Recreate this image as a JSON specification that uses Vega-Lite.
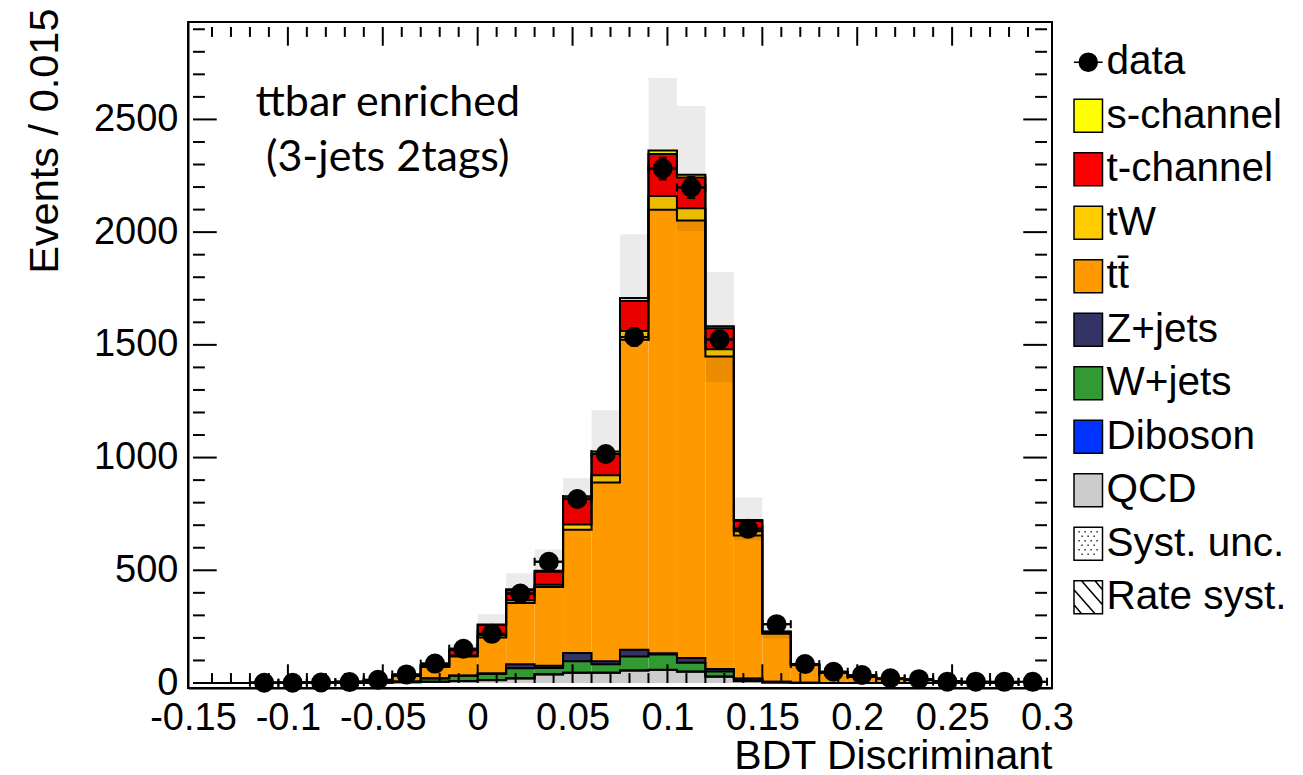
{
  "$schema": "https://vega.github.io/schema/vega-lite/v6.json",
  "width": 864,
  "height": 666,
  "autosize": {"type": "none"},
  "padding": {"left": 188, "top": 22, "right": 251, "bottom": 87},
  "background": "white",
  "datasets": {
    "ranks": [
      {"series": "QCD", "rank": 0},
      {"series": "Diboson", "rank": 1},
      {"series": "W+jets", "rank": 2},
      {"series": "Z+jets", "rank": 3},
      {"series": "tt\u0304", "rank": 4},
      {"series": "tW", "rank": 5},
      {"series": "t-channel", "rank": 6},
      {"series": "s-channel", "rank": 7}
    ],
    "bins": [
      {"lo": -0.15, "hi": -0.135, "c": -0.1425, "data": null, "dlo": null, "dhi": null, "slo": 0, "shi": 0, "QCD": 0, "Diboson": 0, "W+jets": 0, "Z+jets": 0, "tt\u0304": 0, "tW": 0, "t-channel": 0, "s-channel": 0},
      {"lo": -0.135, "hi": -0.12, "c": -0.1275, "data": null, "dlo": null, "dhi": null, "slo": 0.2, "shi": 0.4, "QCD": 0, "Diboson": 0, "W+jets": 0, "Z+jets": 0, "tt\u0304": 0.3, "tW": 0, "t-channel": 0, "s-channel": 0},
      {"lo": -0.12, "hi": -0.105, "c": -0.1125, "data": 1, "dlo": 0, "dhi": 2, "slo": 0.7, "shi": 1.1, "QCD": 0, "Diboson": 0, "W+jets": 0, "Z+jets": 0, "tt\u0304": 0.8, "tW": 0, "t-channel": 0.1, "s-channel": 0},
      {"lo": -0.105, "hi": -0.09, "c": -0.0975, "data": 1, "dlo": 0, "dhi": 2, "slo": 1.4, "shi": 2, "QCD": 0, "Diboson": 0, "W+jets": 0, "Z+jets": 0, "tt\u0304": 1.5, "tW": 0, "t-channel": 0.2, "s-channel": 0},
      {"lo": -0.09, "hi": -0.075, "c": -0.0825, "data": 2, "dlo": 0.6, "dhi": 3.4, "slo": 2.9, "shi": 3.9, "QCD": 0, "Diboson": 0, "W+jets": 0.5, "Z+jets": 0, "tt\u0304": 2.5, "tW": 0.1, "t-channel": 0.3, "s-channel": 0},
      {"lo": -0.075, "hi": -0.06, "c": -0.0675, "data": 4, "dlo": 2, "dhi": 6, "slo": 4.9, "shi": 6.6, "QCD": 0, "Diboson": 0, "W+jets": 1, "Z+jets": 0, "tt\u0304": 4, "tW": 0.2, "t-channel": 0.5, "s-channel": 0},
      {"lo": -0.06, "hi": -0.045, "c": -0.0525, "data": 14, "dlo": 10.3, "dhi": 17.7, "slo": 10.8, "shi": 14.4, "QCD": 1, "Diboson": 0, "W+jets": 2, "Z+jets": 0, "tt\u0304": 8, "tW": 0.4, "t-channel": 1, "s-channel": 0.1},
      {"lo": -0.045, "hi": -0.03, "c": -0.0375, "data": 38, "dlo": 31.8, "dhi": 44.2, "slo": 29.5, "shi": 40, "QCD": 3, "Diboson": 0.2, "W+jets": 4, "Z+jets": 0, "tt\u0304": 24, "tW": 1, "t-channel": 2, "s-channel": 0.3},
      {"lo": -0.03, "hi": -0.015, "c": -0.0225, "data": 86, "dlo": 76.7, "dhi": 95.3, "slo": 68, "shi": 92, "QCD": 5, "Diboson": 0.3, "W+jets": 15, "Z+jets": 0.5, "tt\u0304": 50, "tW": 2, "t-channel": 6, "s-channel": 0.5},
      {"lo": -0.015, "hi": 0, "c": -0.0075, "data": 152, "dlo": 139.7, "dhi": 164.3, "slo": 127, "shi": 172, "QCD": 8, "Diboson": 0.5, "W+jets": 24, "Z+jets": 1, "tt\u0304": 84, "tW": 4, "t-channel": 25, "s-channel": 1},
      {"lo": 0, "hi": 0.015, "c": 0.0075, "data": 218, "dlo": 203.2, "dhi": 232.8, "slo": 224, "shi": 305, "QCD": 12, "Diboson": 1, "W+jets": 27, "Z+jets": 3, "tt\u0304": 159, "tW": 10, "t-channel": 45, "s-channel": 3},
      {"lo": 0.015, "hi": 0.03, "c": 0.0225, "data": 397, "dlo": 377, "dhi": 417, "slo": 358, "shi": 487, "QCD": 20, "Diboson": 1, "W+jets": 44, "Z+jets": 18, "tt\u0304": 272, "tW": 12, "t-channel": 46, "s-channel": 3},
      {"lo": 0.03, "hi": 0.045, "c": 0.0375, "data": 538, "dlo": 515, "dhi": 561, "slo": 428, "shi": 592, "QCD": 38, "Diboson": 1, "W+jets": 27, "Z+jets": 10, "tt\u0304": 350, "tW": 10, "t-channel": 58, "s-channel": 4},
      {"lo": 0.045, "hi": 0.06, "c": 0.0525, "data": 816, "dlo": 787, "dhi": 845, "slo": 705, "shi": 908, "QCD": 45, "Diboson": 1, "W+jets": 51, "Z+jets": 36, "tt\u0304": 547, "tW": 23, "t-channel": 117, "s-channel": 8},
      {"lo": 0.06, "hi": 0.075, "c": 0.0675, "data": 1016, "dlo": 984, "dhi": 1048, "slo": 885, "shi": 1210, "QCD": 45, "Diboson": 1, "W+jets": 37, "Z+jets": 14, "tt\u0304": 792, "tW": 33, "t-channel": 95, "s-channel": 10},
      {"lo": 0.075, "hi": 0.09, "c": 0.0825, "data": 1535, "dlo": 1496, "dhi": 1574, "slo": 1520, "shi": 1991, "QCD": 55, "Diboson": 1, "W+jets": 62, "Z+jets": 29, "tt\u0304": 1376, "tW": 39, "t-channel": 133, "s-channel": 13},
      {"lo": 0.09, "hi": 0.105, "c": 0.0975, "data": 2282, "dlo": 2234, "dhi": 2330, "slo": 2095, "shi": 2684, "QCD": 58, "Diboson": 1, "W+jets": 67, "Z+jets": 6, "tt\u0304": 1967, "tW": 61, "t-channel": 187, "s-channel": 15},
      {"lo": 0.105, "hi": 0.12, "c": 0.1125, "data": 2198, "dlo": 2151, "dhi": 2245, "slo": 2005, "shi": 2560, "QCD": 50, "Diboson": 1, "W+jets": 39, "Z+jets": 21, "tt\u0304": 1941, "tW": 54, "t-channel": 136, "s-channel": 13},
      {"lo": 0.12, "hi": 0.135, "c": 0.1275, "data": 1524, "dlo": 1485, "dhi": 1563, "slo": 1335, "shi": 1823, "QCD": 28, "Diboson": 1, "W+jets": 22, "Z+jets": 11, "tt\u0304": 1386, "tW": 32, "t-channel": 94, "s-channel": 8},
      {"lo": 0.135, "hi": 0.15, "c": 0.1425, "data": 684, "dlo": 658, "dhi": 710, "slo": 633, "shi": 823, "QCD": 8, "Diboson": 0.5, "W+jets": 10, "Z+jets": 2, "tt\u0304": 634, "tW": 19, "t-channel": 45, "s-channel": 5},
      {"lo": 0.15, "hi": 0.165, "c": 0.1575, "data": 261, "dlo": 245, "dhi": 277, "slo": 197, "shi": 262, "QCD": 2, "Diboson": 0.3, "W+jets": 3, "Z+jets": 0, "tt\u0304": 213, "tW": 3, "t-channel": 6, "s-channel": 1},
      {"lo": 0.165, "hi": 0.18, "c": 0.1725, "data": 84, "dlo": 75, "dhi": 93, "slo": 72, "shi": 95, "QCD": 0.5, "Diboson": 0, "W+jets": 1, "Z+jets": 0, "tt\u0304": 78, "tW": 1, "t-channel": 2, "s-channel": 0.3},
      {"lo": 0.18, "hi": 0.195, "c": 0.1875, "data": 50, "dlo": 43, "dhi": 57, "slo": 41, "shi": 54, "QCD": 0, "Diboson": 0, "W+jets": 0.5, "Z+jets": 0, "tt\u0304": 45, "tW": 0.5, "t-channel": 1, "s-channel": 0.2},
      {"lo": 0.195, "hi": 0.21, "c": 0.2025, "data": 35, "dlo": 29, "dhi": 41, "slo": 24, "shi": 32, "QCD": 0, "Diboson": 0, "W+jets": 0, "Z+jets": 0, "tt\u0304": 27, "tW": 0.3, "t-channel": 0.5, "s-channel": 0},
      {"lo": 0.21, "hi": 0.225, "c": 0.2175, "data": 21, "dlo": 16.4, "dhi": 25.6, "slo": 15.5, "shi": 20.7, "QCD": 0, "Diboson": 0, "W+jets": 0, "Z+jets": 0, "tt\u0304": 17.5, "tW": 0.2, "t-channel": 0.3, "s-channel": 0},
      {"lo": 0.225, "hi": 0.24, "c": 0.2325, "data": 17, "dlo": 12.9, "dhi": 21.1, "slo": 11.4, "shi": 15.2, "QCD": 0, "Diboson": 0, "W+jets": 0, "Z+jets": 0, "tt\u0304": 13, "tW": 0, "t-channel": 0.2, "s-channel": 0},
      {"lo": 0.24, "hi": 0.255, "c": 0.2475, "data": 6, "dlo": 3.6, "dhi": 8.4, "slo": 7, "shi": 9.2, "QCD": 0, "Diboson": 0, "W+jets": 0, "Z+jets": 0, "tt\u0304": 8, "tW": 0, "t-channel": 0, "s-channel": 0},
      {"lo": 0.255, "hi": 0.27, "c": 0.2625, "data": 6, "dlo": 3.6, "dhi": 8.4, "slo": 3.5, "shi": 4.6, "QCD": 0, "Diboson": 0, "W+jets": 0, "Z+jets": 0, "tt\u0304": 4, "tW": 0, "t-channel": 0, "s-channel": 0},
      {"lo": 0.27, "hi": 0.285, "c": 0.2775, "data": 5, "dlo": 2.8, "dhi": 7.2, "slo": 2.2, "shi": 2.9, "QCD": 0, "Diboson": 0, "W+jets": 0, "Z+jets": 0, "tt\u0304": 2.5, "tW": 0, "t-channel": 0, "s-channel": 0},
      {"lo": 0.285, "hi": 0.3, "c": 0.2925, "data": 5, "dlo": 2.8, "dhi": 7.2, "slo": 1.3, "shi": 1.7, "QCD": 0, "Diboson": 0, "W+jets": 0, "Z+jets": 0, "tt\u0304": 1.5, "tW": 0, "t-channel": 0, "s-channel": 0}
    ]
  },
  "layer": [
    {
      "data": {"name": "bins"},
      "transform": [
        {"fold": ["QCD", "Diboson", "W+jets", "Z+jets", "tt\u0304", "tW", "t-channel", "s-channel"], "as": ["key", "value"]},
        {"lookup": "key", "from": {"data": {"name": "ranks"}, "key": "series", "fields": ["rank"]}},
        {"stack": "value", "groupby": ["lo"], "sort": [{"field": "rank", "order": "ascending"}], "as": ["y0", "y1"]},
        {"filter": "datum.value > 0"}
      ],
      "mark": {"type": "rect"},
      "encoding": {
        "x": {"field": "lo", "type": "quantitative", "scale": {"domain": [-0.15, 0.3], "nice": false, "zero": false},
          "axis": {"orient": "bottom", "values": [-0.15, -0.1, -0.05, 0, 0.05, 0.1, 0.15, 0.2, 0.25, 0.3],
            "labelExpr": "'' + datum.value", "ticks": false,
            "domain": true, "domainColor": "black", "domainWidth": 2, "grid": false,
            "labelFont": "Liberation Sans", "labelFontSize": 38, "labelColor": "black", "labelPadding": 11,
            "labelFlush": false, "labelOverlap": false, "labelBound": false,
            "title": "BDT Discriminant", "titleFont": "Liberation Sans", "titleFontSize": 41, "titleFontWeight": "normal", "titleColor": "black",
            "titleX": 864, "titleY": 80, "titleAlign": "right", "titleBaseline": "alphabetic"}},
        "x2": {"field": "hi"},
        "y": {"field": "y0", "type": "quantitative", "scale": {"domain": [0, 2910], "nice": false, "zero": false},
          "axis": {"orient": "left", "values": [0, 500, 1000, 1500, 2000, 2500],
            "labelExpr": "'' + datum.value", "ticks": false,
            "domain": true, "domainColor": "black", "domainWidth": 2, "grid": false,
            "labelFont": "Liberation Sans", "labelFontSize": 38, "labelColor": "black", "labelPadding": 10,
            "labelOverlap": false, "labelBound": false, "labelFlush": false,
            "title": "Events / 0.015", "titleFont": "Liberation Sans", "titleFontSize": 41.5, "titleFontWeight": "normal", "titleColor": "black",
            "titleAngle": 270, "titleX": -143, "titleY": -14, "titleAlign": "right", "titleBaseline": "middle"}},
        "y2": {"field": "y1"},
        "color": {"field": "key", "type": "nominal",
          "scale": {"domain": ["data", "s-channel", "t-channel", "tW", "tt\u0304", "Z+jets", "W+jets", "Diboson", "QCD", "Syst. unc.", "Rate syst."],
                    "range": ["#000000", "#ffff00", "#ff0000", "#ffcc00", "#ff9900", "#333366", "#339933", "#0033ff", "#cccccc", "#ffffff", "#ffffff"]},
          "legend": {"title": null, "orient": "none", "legendX": 880, "legendY": 20, "labelFont": "Liberation Sans", "labelFontSize": 40.5, "labelColor": "black", "labelLimit": 400, "symbolSize": 900, "rowPadding": 12.5, "padding": 0, "labelOffset": -2, "symbolStrokeColor": "black", "symbolStrokeWidth": 1.5, "symbolOpacity": 1, "symbolType": "square",
            "encode": {"symbols": {"update": {"stroke": {"value": "black"}, "strokeWidth": {"value": 1.5}, "opacity": {"value": 1}}}}}}
      }
    },
    {
      "data": {"name": "bins"},
      "transform": [{"filter": "datum.shi > 0"}],
      "mark": {"type": "rect", "fill": "#000000", "fillOpacity": 0.08, "strokeWidth": 0},
      "encoding": {
        "x": {"field": "lo", "type": "quantitative", "scale": {"domain": [-0.15, 0.3], "nice": false, "zero": false}},
        "x2": {"field": "hi"},
        "y": {"field": "slo", "type": "quantitative", "scale": {"domain": [0, 2910], "nice": false, "zero": false}},
        "y2": {"field": "shi"}
      }
    },
    {
      "data": {"name": "bins"},
      "transform": [
        {"fold": ["QCD", "Diboson", "W+jets", "Z+jets", "tt\u0304", "tW", "t-channel", "s-channel"], "as": ["key", "value"]},
        {"lookup": "key", "from": {"data": {"name": "ranks"}, "key": "series", "fields": ["rank"]}},
        {"stack": "value", "groupby": ["lo"], "sort": [{"field": "rank", "order": "ascending"}], "as": ["y0", "y1"]}
      ],
      "mark": {"type": "line", "interpolate": "step-after", "color": "black", "strokeWidth": 2},
      "encoding": {
        "x": {"field": "lo", "type": "quantitative", "scale": {"domain": [-0.15, 0.3], "nice": false, "zero": false}},
        "y": {"field": "y1", "type": "quantitative", "scale": {"domain": [0, 2910], "nice": false, "zero": false}},
        "detail": {"field": "key", "type": "nominal"}
      }
    },
    {
      "data": {"name": "bins"},
      "transform": [{"filter": "datum.data != null"}],
      "mark": {"type": "rule", "color": "black", "strokeWidth": 2},
      "encoding": {
        "x": {"field": "lo", "type": "quantitative", "scale": {"domain": [-0.15, 0.3], "nice": false, "zero": false}},
        "x2": {"field": "hi"},
        "y": {"field": "data", "type": "quantitative", "scale": {"domain": [0, 2910], "nice": false, "zero": false}}
      }
    },
    {
      "data": {"name": "bins"},
      "transform": [{"filter": "datum.data != null"}],
      "mark": {"type": "rule", "color": "black", "strokeWidth": 2},
      "encoding": {
        "x": {"field": "c", "type": "quantitative", "scale": {"domain": [-0.15, 0.3], "nice": false, "zero": false}},
        "y": {"field": "dlo", "type": "quantitative", "scale": {"domain": [0, 2910], "nice": false, "zero": false}},
        "y2": {"field": "dhi"}
      }
    },
    {
      "data": {"name": "bins"},
      "transform": [{"filter": "datum.data != null"}],
      "mark": {"type": "tick", "orient": "vertical", "size": 8, "thickness": 2, "color": "black", "opacity": 1},
      "encoding": {
        "x": {"field": "lo", "type": "quantitative", "scale": {"domain": [-0.15, 0.3], "nice": false, "zero": false}},
        "y": {"field": "data", "type": "quantitative", "scale": {"domain": [0, 2910], "nice": false, "zero": false}}
      }
    },
    {
      "data": {"name": "bins"},
      "transform": [{"filter": "datum.data != null"}],
      "mark": {"type": "tick", "orient": "vertical", "size": 8, "thickness": 2, "color": "black", "opacity": 1},
      "encoding": {
        "x": {"field": "hi", "type": "quantitative", "scale": {"domain": [-0.15, 0.3], "nice": false, "zero": false}},
        "y": {"field": "data", "type": "quantitative", "scale": {"domain": [0, 2910], "nice": false, "zero": false}}
      }
    },
    {
      "data": {"name": "bins"},
      "transform": [{"filter": "datum.data != null"}],
      "mark": {"type": "tick", "orient": "horizontal", "size": 8, "thickness": 2, "color": "black", "opacity": 1},
      "encoding": {
        "x": {"field": "c", "type": "quantitative", "scale": {"domain": [-0.15, 0.3], "nice": false, "zero": false}},
        "y": {"field": "dhi", "type": "quantitative", "scale": {"domain": [0, 2910], "nice": false, "zero": false}}
      }
    },
    {
      "data": {"name": "bins"},
      "transform": [{"filter": "datum.data != null"}],
      "mark": {"type": "tick", "orient": "horizontal", "size": 8, "thickness": 2, "color": "black", "opacity": 1},
      "encoding": {
        "x": {"field": "c", "type": "quantitative", "scale": {"domain": [-0.15, 0.3], "nice": false, "zero": false}},
        "y": {"field": "dlo", "type": "quantitative", "scale": {"domain": [0, 2910], "nice": false, "zero": false}}
      }
    },
    {
      "data": {"name": "bins"},
      "transform": [{"filter": "datum.data != null"}],
      "mark": {"type": "point", "filled": true, "size": 900, "opacity": 1, "stroke": "black", "strokeWidth": 2},
      "encoding": {
        "x": {"field": "c", "type": "quantitative", "scale": {"domain": [-0.15, 0.3], "nice": false, "zero": false}},
        "y": {"field": "data", "type": "quantitative", "scale": {"domain": [0, 2910], "nice": false, "zero": false}},
        "color": {"datum": "data", "type": "nominal",
          "scale": {"domain": ["data", "s-channel", "t-channel", "tW", "tt\u0304", "Z+jets", "W+jets", "Diboson", "QCD", "Syst. unc.", "Rate syst."],
                    "range": ["#000000", "#ffff00", "#ff0000", "#ffcc00", "#ff9900", "#333366", "#339933", "#0033ff", "#cccccc", "#ffffff", "#ffffff"]},
          "legend": {"title": null, "orient": "none", "legendX": 880, "legendY": 20, "labelFont": "Liberation Sans", "labelFontSize": 40.5, "labelColor": "black", "labelLimit": 400, "symbolSize": 900, "rowPadding": 12.5, "padding": 0, "labelOffset": -2, "symbolStrokeColor": "black", "symbolStrokeWidth": 1.5, "symbolOpacity": 1,
            "encode": {"symbols": {"update": {"stroke": {"value": "black"}, "strokeWidth": {"value": 1.5}, "opacity": {"value": 1}}}}}},
        "shape": {"datum": "data", "type": "nominal",
          "scale": {"domain": ["data", "s-channel", "t-channel", "tW", "tt\u0304", "Z+jets", "W+jets", "Diboson", "QCD", "Syst. unc.", "Rate syst."],
                    "range": [
                      "M-0.6,0A0.6,0.6,0,1,1,0.6,0A0.6,0.6,0,1,1,-0.6,0Z M-0.96,0L0.96,0",
                      "M-0.95,-1.1L0.95,-1.1L0.95,1.1L-0.95,1.1Z",
                      "M-0.95,-1.1L0.95,-1.1L0.95,1.1L-0.95,1.1Z",
                      "M-0.95,-1.1L0.95,-1.1L0.95,1.1L-0.95,1.1Z",
                      "M-0.95,-1.1L0.95,-1.1L0.95,1.1L-0.95,1.1Z",
                      "M-0.95,-1.1L0.95,-1.1L0.95,1.1L-0.95,1.1Z",
                      "M-0.95,-1.1L0.95,-1.1L0.95,1.1L-0.95,1.1Z",
                      "M-0.95,-1.1L0.95,-1.1L0.95,1.1L-0.95,1.1Z",
                      "M-0.95,-1.1L0.95,-1.1L0.95,1.1L-0.95,1.1Z",
                      "M-0.95,-1.1L0.95,-1.1L0.95,1.1L-0.95,1.1Z M-0.65,-0.8L-0.57,-0.8 M-0.25,-0.8L-0.17,-0.8 M0.15,-0.8L0.23,-0.8 M0.55,-0.8L0.63,-0.8 M-0.45,-0.5L-0.37,-0.5 M-0.05,-0.5L0.03,-0.5 M0.35,-0.5L0.43,-0.5 M-0.65,-0.2L-0.57,-0.2 M-0.25,-0.2L-0.17,-0.2 M0.15,-0.2L0.23,-0.2 M0.55,-0.2L0.63,-0.2 M-0.45,0.1L-0.37,0.1 M-0.05,0.1L0.03,0.1 M0.35,0.1L0.43,0.1 M-0.65,0.4L-0.57,0.4 M-0.25,0.4L-0.17,0.4 M0.15,0.4L0.23,0.4 M0.55,0.4L0.63,0.4 M-0.45,0.7L-0.37,0.7 M-0.05,0.7L0.03,0.7 M0.35,0.7L0.43,0.7",
                      "M-0.95,-1.1L0.95,-1.1L0.95,1.1L-0.95,1.1Z M-0.95,-0.5L0.45,1.1 M-0.45,-1.1L0.95,0.5 M-0.95,0.5L-0.45,1.1 M0.45,-1.1L0.95,-0.5"
                    ]},
          "legend": {"title": null, "orient": "none", "legendX": 880, "legendY": 20, "labelFont": "Liberation Sans", "labelFontSize": 40.5, "labelColor": "black", "labelLimit": 400, "symbolSize": 900, "rowPadding": 12.5, "padding": 0, "labelOffset": -2, "symbolStrokeColor": "black", "symbolStrokeWidth": 1.5, "symbolOpacity": 1,
            "encode": {"symbols": {"update": {"stroke": {"value": "black"}, "strokeWidth": {"value": 1.5}, "opacity": {"value": 1}}}}}}
      }
    },
    {
      "data": {"values": [{"v": -0.1}, {"v": -0.05}, {"v": 0}, {"v": 0.05}, {"v": 0.1}, {"v": 0.15}, {"v": 0.2}, {"v": 0.25}]},
      "mark": {"type": "bar", "color": "black", "width": 2, "clip": false},
      "encoding": {
        "x": {"field": "v", "type": "quantitative", "scale": {"domain": [-0.15, 0.3], "nice": false, "zero": false}},
        "y": {"datum": 0, "type": "quantitative", "scale": {"domain": [0, 2910], "nice": false, "zero": false}},
        "y2": {"datum": 83}
      }
    },
    {
      "data": {"values": [{"v": -0.1}, {"v": -0.05}, {"v": 0}, {"v": 0.05}, {"v": 0.1}, {"v": 0.15}, {"v": 0.2}, {"v": 0.25}]},
      "mark": {"type": "bar", "color": "black", "width": 2, "clip": false},
      "encoding": {
        "x": {"field": "v", "type": "quantitative", "scale": {"domain": [-0.15, 0.3], "nice": false, "zero": false}},
        "y": {"datum": 2827, "type": "quantitative", "scale": {"domain": [0, 2910], "nice": false, "zero": false}},
        "y2": {"datum": 2910}
      }
    },
    {
      "data": {"values": [{"v": -0.14}, {"v": -0.13}, {"v": -0.12}, {"v": -0.11}, {"v": -0.09}, {"v": -0.08}, {"v": -0.07}, {"v": -0.06}, {"v": -0.04}, {"v": -0.03}, {"v": -0.02}, {"v": -0.01}, {"v": 0.01}, {"v": 0.02}, {"v": 0.03}, {"v": 0.04}, {"v": 0.06}, {"v": 0.07}, {"v": 0.08}, {"v": 0.09}, {"v": 0.11}, {"v": 0.12}, {"v": 0.13}, {"v": 0.14}, {"v": 0.16}, {"v": 0.17}, {"v": 0.18}, {"v": 0.19}, {"v": 0.21}, {"v": 0.22}, {"v": 0.23}, {"v": 0.24}, {"v": 0.26}, {"v": 0.27}, {"v": 0.28}, {"v": 0.29}]},
      "mark": {"type": "bar", "color": "black", "width": 2, "clip": false},
      "encoding": {
        "x": {"field": "v", "type": "quantitative", "scale": {"domain": [-0.15, 0.3], "nice": false, "zero": false}},
        "y": {"datum": 0, "type": "quantitative", "scale": {"domain": [0, 2910], "nice": false, "zero": false}},
        "y2": {"datum": 44}
      }
    },
    {
      "data": {"values": [{"v": -0.14}, {"v": -0.13}, {"v": -0.12}, {"v": -0.11}, {"v": -0.09}, {"v": -0.08}, {"v": -0.07}, {"v": -0.06}, {"v": -0.04}, {"v": -0.03}, {"v": -0.02}, {"v": -0.01}, {"v": 0.01}, {"v": 0.02}, {"v": 0.03}, {"v": 0.04}, {"v": 0.06}, {"v": 0.07}, {"v": 0.08}, {"v": 0.09}, {"v": 0.11}, {"v": 0.12}, {"v": 0.13}, {"v": 0.14}, {"v": 0.16}, {"v": 0.17}, {"v": 0.18}, {"v": 0.19}, {"v": 0.21}, {"v": 0.22}, {"v": 0.23}, {"v": 0.24}, {"v": 0.26}, {"v": 0.27}, {"v": 0.28}, {"v": 0.29}]},
      "mark": {"type": "bar", "color": "black", "width": 2, "clip": false},
      "encoding": {
        "x": {"field": "v", "type": "quantitative", "scale": {"domain": [-0.15, 0.3], "nice": false, "zero": false}},
        "y": {"datum": 2866, "type": "quantitative", "scale": {"domain": [0, 2910], "nice": false, "zero": false}},
        "y2": {"datum": 2910}
      }
    },
    {
      "data": {"values": [{"v": 500}, {"v": 1000}, {"v": 1500}, {"v": 2000}, {"v": 2500}]},
      "mark": {"type": "bar", "color": "black", "height": 2, "clip": false, "orient": "horizontal"},
      "encoding": {
        "y": {"field": "v", "type": "quantitative", "scale": {"domain": [0, 2910], "nice": false, "zero": false}},
        "x": {"datum": -0.15, "type": "quantitative", "scale": {"domain": [-0.15, 0.3], "nice": false, "zero": false}},
        "x2": {"datum": -0.1375}
      }
    },
    {
      "data": {"values": [{"v": 500}, {"v": 1000}, {"v": 1500}, {"v": 2000}, {"v": 2500}]},
      "mark": {"type": "bar", "color": "black", "height": 2, "clip": false, "orient": "horizontal"},
      "encoding": {
        "y": {"field": "v", "type": "quantitative", "scale": {"domain": [0, 2910], "nice": false, "zero": false}},
        "x": {"datum": 0.2875, "type": "quantitative", "scale": {"domain": [-0.15, 0.3], "nice": false, "zero": false}},
        "x2": {"datum": 0.3}
      }
    },
    {
      "data": {"values": [{"v": 100}, {"v": 200}, {"v": 300}, {"v": 400}, {"v": 600}, {"v": 700}, {"v": 800}, {"v": 900}, {"v": 1100}, {"v": 1200}, {"v": 1300}, {"v": 1400}, {"v": 1600}, {"v": 1700}, {"v": 1800}, {"v": 1900}, {"v": 2100}, {"v": 2200}, {"v": 2300}, {"v": 2400}, {"v": 2600}, {"v": 2700}, {"v": 2800}, {"v": 2900}]},
      "mark": {"type": "bar", "color": "black", "height": 2, "clip": false, "orient": "horizontal"},
      "encoding": {
        "y": {"field": "v", "type": "quantitative", "scale": {"domain": [0, 2910], "nice": false, "zero": false}},
        "x": {"datum": -0.15, "type": "quantitative", "scale": {"domain": [-0.15, 0.3], "nice": false, "zero": false}},
        "x2": {"datum": -0.14375}
      }
    },
    {
      "data": {"values": [{"v": 100}, {"v": 200}, {"v": 300}, {"v": 400}, {"v": 600}, {"v": 700}, {"v": 800}, {"v": 900}, {"v": 1100}, {"v": 1200}, {"v": 1300}, {"v": 1400}, {"v": 1600}, {"v": 1700}, {"v": 1800}, {"v": 1900}, {"v": 2100}, {"v": 2200}, {"v": 2300}, {"v": 2400}, {"v": 2600}, {"v": 2700}, {"v": 2800}, {"v": 2900}]},
      "mark": {"type": "bar", "color": "black", "height": 2, "clip": false, "orient": "horizontal"},
      "encoding": {
        "y": {"field": "v", "type": "quantitative", "scale": {"domain": [0, 2910], "nice": false, "zero": false}},
        "x": {"datum": 0.29375, "type": "quantitative", "scale": {"domain": [-0.15, 0.3], "nice": false, "zero": false}},
        "x2": {"datum": 0.3}
      }
    },
    {
      "data": {"values": [{}]},
      "mark": {"type": "text", "text": ["ttbar enriched", "(3-jets 2tags)"], "font": "Lato", "fontSize": 43, "lineHeight": 55, "align": "center", "baseline": "alphabetic", "color": "black"},
      "encoding": {
        "x": {"datum": -0.0474, "type": "quantitative", "scale": {"domain": [-0.15, 0.3], "nice": false, "zero": false}},
        "y": {"datum": 2517, "type": "quantitative", "scale": {"domain": [0, 2910], "nice": false, "zero": false}}
      }
    }
  ],
  "config": {
    "font": "Liberation Sans",
    "view": {"stroke": "black", "strokeWidth": 2}
  }
}
